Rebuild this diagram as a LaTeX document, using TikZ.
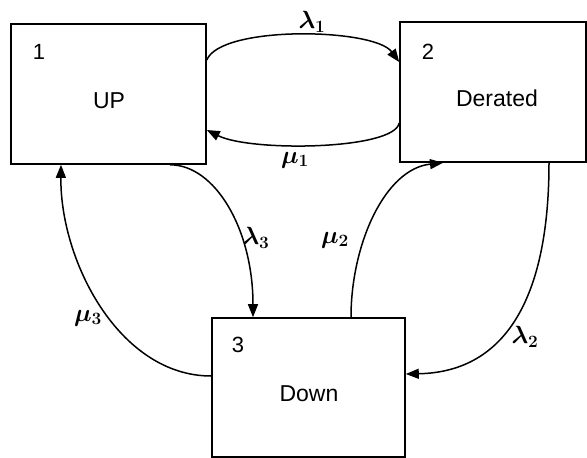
\documentclass[tikz,border=0pt]{standalone}
\usepackage{fontspec}
\setmainfont{Liberation Sans}
\usetikzlibrary{arrows.meta}
\begin{document}
\begin{tikzpicture}[x=1pt,y=-1pt,
  statebox/.style={draw,line width=1.6pt,rectangle,inner sep=0pt},
  conn/.style={line width=1.5pt,-{Triangle[length=13pt,width=10pt]}},
  numlab/.style={font=\fontsize{22}{26}\selectfont,inner sep=0pt},
  txtlab/.style={font=\fontsize{23}{27}\selectfont,inner sep=0pt},
  ratelab/.style={font=\fontsize{27}{32}\selectfont\boldmath,inner sep=0pt}]
\useasboundingbox (0,0) rectangle (587,458);
\node[statebox,minimum width=195pt,minimum height=140pt] (b1) at (108.5,94) {};
\node[statebox,minimum width=186pt,minimum height=140pt] (b2) at (493,92) {};
\node[statebox,minimum width=193pt,minimum height=139pt] (b3) at (308.5,387.5) {};
\node[numlab] (n1) at (39,52) {1};
\node[numlab] (n2) at (428,52) {2};
\node[numlab] (n3) at (238,345) {3};
\node[txtlab] (t1) at (109,101) {UP};
\node[txtlab] (t2) at (497,98) {Derated};
\node[txtlab] (t3) at (309,394) {Down};
\draw[conn] ([yshift=34pt]b1.east) .. controls +(14,-35) and +(-25,-34) .. ([yshift=30pt]b2.west);
\draw[conn] ([yshift=-31pt]b2.west) .. controls +(-5,27) and +(44,22) .. ([yshift=-36pt]b1.east);
\draw[conn] ([xshift=61.5pt]b1.south) .. controls +(45,0) and +(0,-88) .. ([xshift=-55.5pt]b3.north);
\draw[conn] ([yshift=11.5pt]b3.west) .. controls +(-92,0) and +(-1,96) .. ([xshift=-47.5pt]b1.south);
\draw[conn] ([xshift=42.5pt]b3.north) .. controls +(0,-73) and +(-58,6) .. ([xshift=-50pt]b2.south);
\draw[conn] ([xshift=56pt]b2.south) .. controls +(0,128) and +(104,-2) .. ([yshift=13.5pt]b3.east);
\node[ratelab] (l1) at (312,22) {$\lambda_1$};
\node[ratelab] (m1) at (295,160) {$\mu_1$};
\node[ratelab] (l3) at (256,238) {$\lambda_3$};
\node[ratelab] (m2) at (335,240) {$\mu_2$};
\node[ratelab] (m3) at (88,318) {$\mu_3$};
\node[ratelab] (l2) at (525,337) {$\lambda_2$};
\end{tikzpicture}
\end{document}
